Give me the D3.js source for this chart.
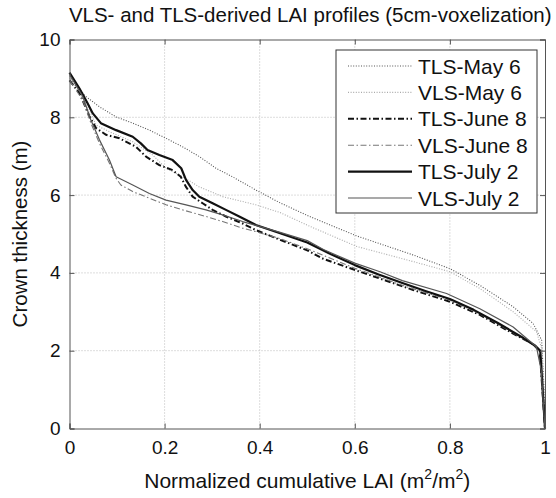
<!DOCTYPE html>
<html>
<head>
<meta charset="utf-8">
<script src="https://d3js.org/d3.v7.min.js"></script>
<style>
  body { margin: 0; background: #fff; }
  svg text { font-family: Arial, "Liberation Sans", Helvetica, sans-serif; fill: #111; }
</style>
</head>
<body>
<div id="container"></div>
<script>
/* CONSTANTS AND GLOBALS */
const width = 556,
  height = 498,
  margin = { top: 39.5, bottom: 69.5, left: 69.5, right: 11 }

/* DATA (normalized cumulative LAI, crown thickness m) */
const xTicks = [0, 0.2, 0.4, 0.6, 0.8, 1]
const yTicks = [0, 2, 4, 6, 8, 10]

const tlsMay6 = [[0,9.05],[0.014,8.8],[0.035,8.53],[0.063,8.27],[0.098,8.01],[0.133,7.85],[0.168,7.67],[0.203,7.46],[0.238,7.24],[0.273,6.99],[0.308,6.69],[0.343,6.47],[0.392,6.13],[0.443,5.8],[0.505,5.45],[0.604,4.95],[0.723,4.46],[0.8,4.11],[0.863,3.68],[0.933,3.13],[0.975,2.7],[0.993,2.27],[0.998,1.0],[1,0]]
const vlsMay6 = [[0,9.0],[0.035,8.36],[0.056,7.8],[0.084,7.63],[0.133,7.37],[0.175,7.03],[0.203,6.69],[0.238,6.47],[0.273,6.21],[0.322,5.96],[0.392,5.75],[0.443,5.55],[0.505,5.2],[0.604,4.68],[0.723,4.29],[0.8,4.03],[0.863,3.6],[0.933,3.0],[0.982,2.49],[0.993,2.06],[0.998,0.8],[1,0]]
const tlsJune8 = [[0,8.95],[0.021,8.62],[0.042,8.02],[0.056,7.72],[0.077,7.55],[0.105,7.46],[0.14,7.24],[0.161,6.99],[0.189,6.77],[0.217,6.64],[0.234,6.47],[0.245,6.21],[0.259,5.96],[0.28,5.79],[0.301,5.62],[0.329,5.45],[0.364,5.27],[0.392,5.1],[0.443,4.85],[0.5,4.58],[0.534,4.36],[0.604,4.06],[0.723,3.56],[0.8,3.26],[0.863,2.92],[0.933,2.44],[0.975,2.17],[0.989,2.0],[0.996,0.73],[1,0]]
const vlsJune8 = [[0,8.95],[0.028,8.44],[0.045,7.85],[0.063,7.33],[0.084,6.82],[0.098,6.43],[0.108,6.26],[0.133,6.09],[0.168,5.92],[0.203,5.75],[0.238,5.62],[0.287,5.45],[0.322,5.32],[0.364,5.15],[0.392,5.06],[0.443,4.88],[0.5,4.62],[0.6,4.12],[0.7,3.68],[0.8,3.3],[0.863,2.95],[0.933,2.46],[0.975,2.15],[0.99,1.95],[0.996,0.8],[1,0]]
const tlsJuly2 = [[0,9.15],[0.021,8.74],[0.038,8.36],[0.049,8.1],[0.066,7.85],[0.098,7.67],[0.133,7.5],[0.15,7.33],[0.164,7.16],[0.189,7.03],[0.217,6.9],[0.235,6.69],[0.245,6.39],[0.259,6.13],[0.273,5.96],[0.301,5.79],[0.329,5.62],[0.357,5.45],[0.392,5.23],[0.443,5.02],[0.5,4.78],[0.55,4.48],[0.6,4.2],[0.65,3.96],[0.7,3.74],[0.75,3.53],[0.8,3.33],[0.85,3.05],[0.9,2.72],[0.95,2.36],[0.98,2.12],[0.99,2.0],[0.995,1.0],[1,0]]
const vlsJuly2 = [[0,9.1],[0.028,8.53],[0.045,7.93],[0.063,7.42],[0.084,6.9],[0.098,6.47],[0.133,6.26],[0.168,6.04],[0.203,5.87],[0.245,5.75],[0.287,5.62],[0.322,5.49],[0.364,5.32],[0.392,5.22],[0.443,5.04],[0.5,4.83],[0.534,4.6],[0.6,4.25],[0.653,4.03],[0.7,3.8],[0.793,3.47],[0.863,3.08],[0.933,2.61],[0.982,2.1],[0.992,1.5],[1,0]]

const seriesNames = ["TLS-May 6", "VLS-May 6", "TLS-June 8", "VLS-June 8", "TLS-July 2", "VLS-July 2"]
const seriesData = [tlsMay6, vlsMay6, tlsJune8, vlsJune8, tlsJuly2, vlsJuly2]
const styles = [
  { stroke: "#555", width: 1.1, dash: "1,1.6" },
  { stroke: "#aaa", width: 1.1, dash: "1,1.6" },
  { stroke: "#111", width: 2, dash: "6,2.5,1.5,2.5" },
  { stroke: "#777", width: 1.1, dash: "6,2.5,1.5,2.5" },
  { stroke: "#111", width: 2.2, dash: null },
  { stroke: "#555", width: 1.2, dash: null }
]

const xScale = d3.scaleLinear()
  .domain([0, 1])
  .range([margin.left, width - margin.right])

const yScale = d3.scaleLinear()
  .domain([0, 10])
  .range([height - margin.bottom, margin.top])

const svg = d3.select("#container")
  .append("svg")
  .attr("width", width)
  .attr("height", height)

// grid
svg.append("g")
  .selectAll("line")
  .data(xTicks.slice(1, -1))
  .join("line")
  .attr("x1", d => xScale(d)).attr("x2", d => xScale(d))
  .attr("y1", yScale(0)).attr("y2", yScale(10))
  .attr("stroke", "#bbb").attr("stroke-dasharray", "1,2")

svg.append("g")
  .selectAll("line")
  .data(yTicks.slice(1, -1))
  .join("line")
  .attr("y1", d => yScale(d)).attr("y2", d => yScale(d))
  .attr("x1", xScale(0)).attr("x2", xScale(1))
  .attr("stroke", "#bbb").attr("stroke-dasharray", "1,2")

// lines
const line = d3.line()
  .x(d => xScale(d[0]))
  .y(d => yScale(d[1]))

svg.append("g")
  .selectAll("path")
  .data(seriesData)
  .join("path")
  .attr("d", d => line(d))
  .attr("fill", "none")
  .attr("stroke", (d, i) => styles[i].stroke)
  .attr("stroke-width", (d, i) => styles[i].width)
  .attr("stroke-dasharray", (d, i) => styles[i].dash)
  .attr("stroke-linejoin", "round")

// axes (ticks inward, matlab style)
const tickLen = 5
const axisColor = "#555"

svg.append("g")
  .attr("transform", `translate(0,${yScale(0)})`)
  .call(d3.axisBottom(xScale).tickValues(xTicks).tickSize(-tickLen).tickPadding(12).tickFormat(d3.format("~g")))
svg.append("g")
  .attr("transform", `translate(0,${yScale(10)})`)
  .call(d3.axisTop(xScale).tickValues(xTicks).tickSize(-tickLen).tickFormat(""))
svg.append("g")
  .attr("transform", `translate(${xScale(0)},0)`)
  .call(d3.axisLeft(yScale).tickValues(yTicks).tickSize(-tickLen).tickPadding(9))
svg.append("g")
  .attr("transform", `translate(${xScale(1)},0)`)
  .call(d3.axisRight(yScale).tickValues(yTicks).tickSize(-tickLen).tickFormat(""))

svg.selectAll(".domain, .tick line").attr("stroke", axisColor)
svg.selectAll(".tick text").attr("font-size", 19).attr("fill", "#111")
  .style("font-family", "Arial, 'Liberation Sans', sans-serif")

// titles
svg.append("text")
  .attr("x", (xScale(0) + xScale(1)) / 2 + 3)
  .attr("y", 22)
  .attr("text-anchor", "middle")
  .attr("font-size", 20.5)
  .text("VLS- and TLS-derived LAI profiles (5cm-voxelization)")

const xTitle = svg.append("text")
  .attr("x", (xScale(0) + xScale(1)) / 2)
  .attr("y", 488)
  .attr("text-anchor", "middle")
  .attr("font-size", 21)
xTitle.append("tspan").text("Normalized cumulative LAI (m")
xTitle.append("tspan").attr("dy", -9).attr("font-size", 14).text("2")
xTitle.append("tspan").attr("dy", 9).text("/m")
xTitle.append("tspan").attr("dy", -9).attr("font-size", 14).text("2")
xTitle.append("tspan").attr("dy", 9).text(")")

svg.append("text")
  .attr("transform", `translate(27,${(yScale(0) + yScale(10)) / 2}) rotate(-90)`)
  .attr("text-anchor", "middle")
  .attr("font-size", 20.5)
  .text("Crown thickness (m)")

// legend
const legend = svg.append("g").attr("transform", "translate(336,50)")
legend.append("rect")
  .attr("width", 201).attr("height", 163)
  .attr("fill", "#fff").attr("stroke", "#333").attr("stroke-width", 1)

const rows = legend.selectAll("g.row")
  .data(seriesNames)
  .join("g")
  .attr("class", "row")
  .attr("transform", (d, i) => `translate(0,${16 + i * 26.4})`)

rows.append("line")
  .attr("x1", 12).attr("x2", 76)
  .attr("stroke", (d, i) => styles[i].stroke)
  .attr("stroke-width", (d, i) => styles[i].width)
  .attr("stroke-dasharray", (d, i) => styles[i].dash)

rows.append("text")
  .attr("x", 82).attr("y", 7.5)
  .attr("font-size", 21)
  .text(d => d)
</script>
</body>
</html>
